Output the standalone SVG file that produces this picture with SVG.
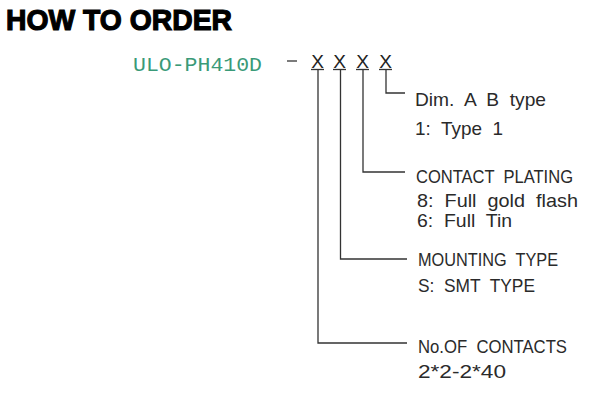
<svg xmlns="http://www.w3.org/2000/svg" width="600" height="400" viewBox="0 0 600 400">
<style>
.t{font-family:"Liberation Sans",Arial,sans-serif;font-size:19px;fill:#2a2a2a;white-space:pre}
.x{font-family:"Liberation Sans",Arial,sans-serif;font-size:19px;fill:#222;text-anchor:middle}
.ln{stroke:#333;stroke-width:1.3;fill:none}
</style>
<rect width="600" height="400" fill="#fff"/>
<text x="6" y="30" font-family="Liberation Sans,Arial,sans-serif" font-weight="bold" font-size="30" fill="#000" stroke="#000" stroke-width="1.2" textLength="226" lengthAdjust="spacingAndGlyphs">HOW TO ORDER</text>
<g id="part">
<text x="133" y="71" font-family="Liberation Mono,Courier New,monospace" font-size="21" fill="#3a9a78" textLength="129" lengthAdjust="spacingAndGlyphs">ULO-PH410D</text>
<line class="ln" x1="287" y1="61" x2="297" y2="61" stroke-width="1.6"/>
<text class="x" x="317.5" y="68">X</text>
<text class="x" x="339.5" y="68">X</text>
<text class="x" x="362.5" y="68">X</text>
<text class="x" x="385.5" y="68">X</text>
<line class="ln" x1="311" y1="69.5" x2="324" y2="69.5"/>
<line class="ln" x1="333" y1="69.5" x2="346" y2="69.5"/>
<line class="ln" x1="356" y1="69.5" x2="369" y2="69.5"/>
<line class="ln" x1="379" y1="69.5" x2="392" y2="69.5"/>
</g>
<g id="connectors">
<polyline class="ln" points="386,69.5 386,93 405,93"/>
<polyline class="ln" points="363,69.5 363,172 405,172"/>
<polyline class="ln" points="340.5,69.5 340.5,259 407,259"/>
<polyline class="ln" points="318,69.5 318,343 407,343"/>
</g>
<g id="dim">
<text class="t" x="415" y="106" textLength="131" lengthAdjust="spacingAndGlyphs" xml:space="preserve">Dim.  A  B  type</text>
<text class="t" x="415" y="135" textLength="88" lengthAdjust="spacingAndGlyphs" xml:space="preserve">1:  Type  1</text>
</g>
<g id="plating">
<text class="t" x="416" y="183" textLength="157" lengthAdjust="spacingAndGlyphs" xml:space="preserve">CONTACT  PLATING</text>
<text class="t" x="417" y="207" textLength="161" lengthAdjust="spacingAndGlyphs" xml:space="preserve">8:  Full  gold  flash</text>
<text class="t" x="417" y="227" textLength="95" lengthAdjust="spacingAndGlyphs" xml:space="preserve">6:  Full  Tin</text>
</g>
<g id="mounting">
<text class="t" x="418" y="266" textLength="140" lengthAdjust="spacingAndGlyphs" xml:space="preserve">MOUNTING  TYPE</text>
<text class="t" x="418" y="292" textLength="117" lengthAdjust="spacingAndGlyphs" xml:space="preserve">S:  SMT  TYPE</text>
</g>
<g id="contacts">
<text class="t" x="418" y="353" textLength="149" lengthAdjust="spacingAndGlyphs" xml:space="preserve">No.OF  CONTACTS</text>
<text class="t" x="418" y="378" textLength="88" lengthAdjust="spacingAndGlyphs">2*2-2*40</text>
</g>
</svg>
